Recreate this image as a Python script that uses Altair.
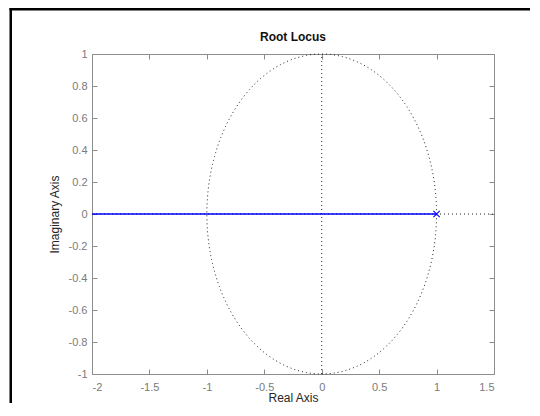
import altair as alt
import pandas as pd
import numpy as np

# ---- data ----
x_ticks = [-2, -1.5, -1, -0.5, 0, 0.5, 1, 1.5]
y_ticks = [-1, -0.8, -0.6, -0.4, -0.2, 0, 0.2, 0.4, 0.6, 0.8, 1]
x_domain = [-2, 1.5]
y_domain = [-1, 1]
chart_title = "Root Locus"

locus_re = [-2, 1]          # blue root-locus branch along the real axis
locus_im = [0, 0]
pole_re = [1]               # open-loop pole (x marker)
pole_im = [0]

vline_re = [0, 0]           # dotted imaginary-axis guide
vline_im = [-1, 1]
hline_re = [-2, 1.5]        # dotted real-axis guide
hline_im = [0, 0]

# unit-circle grid (|z| = 1)
circle_t = np.linspace(0, 2 * np.pi, 241)
circle_re = np.cos(circle_t)
circle_im = np.sin(circle_t)

W, H = 402, 320
PAD_L, PAD_T, PAD_R, PAD_B = 84, 46, 36, 29
FONT = "Liberation Sans"
AX_GRAY = "#8c8c8c"
LBL_GRAY = "#7a7a7a"

xs = alt.Scale(domain=x_domain, nice=False, zero=False)
ys = alt.Scale(domain=y_domain, nice=False, zero=False)

lbl = "replace(format(datum.value, '~g'), '\u2212', '-')"

x_bottom = alt.Axis(values=x_ticks, orient="bottom", offset=-5, tickSize=5, domain=False,
                    grid=False, labelPadding=7, labelExpr=lbl, title="Real Axis",
                    titlePadding=0)
y_left = alt.Axis(values=y_ticks, orient="left", offset=-5, tickSize=5, domain=False,
                  grid=False, labelPadding=5, labelExpr=lbl, title="Imaginary Axis",
                  titlePadding=7)
x_top = alt.Axis(values=x_ticks, orient="top", offset=-5, tickSize=5, domain=False,
                 grid=False, labels=False, title=None)
y_right = alt.Axis(values=y_ticks, orient="right", offset=-5, tickSize=5, domain=False,
                   grid=False, labels=False, title=None)

circle_df = pd.DataFrame({"re": circle_re, "im": circle_im, "i": np.arange(len(circle_re))})
vline_df = pd.DataFrame({"re": vline_re, "im": vline_im, "i": [0, 1]})
hline_df = pd.DataFrame({"re": hline_re, "im": hline_im, "i": [0, 1]})
locus_df = pd.DataFrame({"re": locus_re, "im": locus_im, "i": [0, 1]})
pole_df = pd.DataFrame({"re": pole_re, "im": pole_im})
title_df = pd.DataFrame({"t": [chart_title]})

dot = dict(color="#222222", strokeWidth=1, strokeDash=[1, 3], strokeCap="butt")

circle = alt.Chart(circle_df).mark_line(**dot).encode(
    x=alt.X("re:Q", scale=xs, axis=x_bottom),
    y=alt.Y("im:Q", scale=ys, axis=y_left),
    order="i:Q",
)
vline = alt.Chart(vline_df).mark_line(**dot).encode(
    x=alt.X("re:Q", scale=xs, axis=x_top),
    y=alt.Y("im:Q", scale=ys, axis=y_right),
    order="i:Q",
)
hline = alt.Chart(hline_df).mark_line(**dot).encode(
    x=alt.X("re:Q", scale=xs, axis=None),
    y=alt.Y("im:Q", scale=ys, axis=None),
    order="i:Q",
)
locus = alt.Chart(locus_df).mark_line(color="#0000ff", strokeWidth=1.3).encode(
    x=alt.X("re:Q", scale=xs, axis=None),
    y=alt.Y("im:Q", scale=ys, axis=None),
    order="i:Q",
)
pole = alt.Chart(pole_df).mark_point(
    shape="M-1,-1L1,1M-1,1L1,-1", size=40, filled=False, color="#0000ff", strokeWidth=1.1,
    opacity=1,
).encode(
    x=alt.X("re:Q", scale=xs, axis=None),
    y=alt.Y("im:Q", scale=ys, axis=None),
)

title = alt.Chart(title_df).mark_text(
    font=FONT, fontSize=12, fontWeight="bold", color="#111111", baseline="alphabetic",
    align="center",
).encode(text="t:N", x=alt.value(W / 2), y=alt.value(-13))

# black figure frame (left and top edges of the screenshot), drawn as thin filled bars
frame_df = pd.DataFrame({"k": [0]})
frame_left = alt.Chart(frame_df).mark_rect(color="black", strokeWidth=0).encode(
    x=alt.value(-82.5), x2=alt.value(-80),
    y=alt.value(-PAD_T), y2=alt.value(H + PAD_B),
)
frame_top = alt.Chart(frame_df).mark_rect(color="black", strokeWidth=0).encode(
    x=alt.value(-82.5), x2=alt.value(W + PAD_R),
    y=alt.value(-PAD_T), y2=alt.value(-PAD_T + 2.5),
)

chart = alt.layer(circle, vline, hline, locus, pole, title, frame_left, frame_top).resolve_axis(
    x="independent", y="independent"
).properties(
    width=W, height=H,
    autosize=alt.AutoSizeParams(type="none"),
    padding={"left": PAD_L, "top": PAD_T, "right": PAD_R, "bottom": PAD_B},
    background="white",
).configure_view(
    stroke=AX_GRAY, strokeWidth=1
).configure_axis(
    labelFont=FONT, labelFontSize=11, labelColor=LBL_GRAY,
    titleFont=FONT, titleFontSize=12, titleColor="#262626", titleFontWeight="normal",
    tickColor=AX_GRAY, tickWidth=1,
)

chart.save("out.html", embed_options={"renderer": "svg", "actions": False})
